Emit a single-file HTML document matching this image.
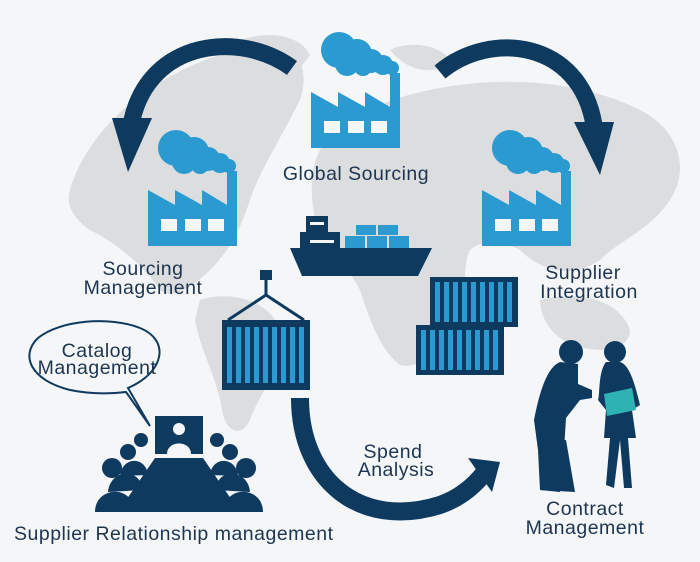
<!DOCTYPE html>
<html><head><meta charset="utf-8"><style>
html,body{margin:0;padding:0;background:#f4f6f8}
svg{display:block}
text{font-family:"Liberation Sans",sans-serif;font-size:19.5px;fill:#1d3550;letter-spacing:0.5px}
</style></head><body>
<svg width="700" height="562" viewBox="0 0 700 562" xmlns="http://www.w3.org/2000/svg">
<rect width="700" height="562" fill="#f4f6f8"/>
<g fill="#dcdddf">
<path d="M70,190 C90,120 170,60 260,45 C300,40 310,70 300,100 C280,140 260,170 250,200 C240,230 230,250 210,270 C190,290 170,300 160,290 C140,260 110,240 90,230 C75,220 65,205 70,190Z"/>
<path d="M240,40 C270,30 300,35 310,55 L295,75 C280,65 255,60 240,40Z"/>
<path d="M200,300 C230,290 270,300 280,330 C290,360 260,390 250,420 C240,440 225,430 222,410 C218,380 200,350 195,320Z"/>
<path d="M320,150 C340,120 380,100 430,90 C500,75 580,80 640,110 C680,130 690,170 670,200 C650,230 620,240 600,260 C570,280 540,270 520,250 C500,240 480,240 470,250 C460,270 470,300 460,320 C445,350 420,370 400,365 C380,350 370,320 360,290 C345,260 320,250 315,220 C310,190 310,170 320,150Z"/>
<path d="M540,300 C580,290 620,300 630,330 C630,350 600,355 575,345 C555,340 540,320 540,300Z"/>
<path d="M390,50 C410,40 440,45 450,60 C440,75 410,75 390,50Z"/>
</g>

<g fill="none" stroke="#0e3a5f" stroke-linecap="butt">
<path d="M292,68 C240,30 150,40 132,120" stroke-width="17"/>
<path d="M440,72 C490,30 580,40 594,125" stroke-width="17"/>
<path d="M300,398 C300,480 360,530 440,505 C460,498 475,485 485,472" stroke-width="18"/>
</g>
<g fill="#0e3a5f">
<polygon points="112,118 152,118 128,172"/>
<polygon points="574,122 614,122 600,175"/>
<polygon points="468,458 500,462 492,492"/>
</g>

<defs>
<g id="fac">
<g fill="#2a9ad0">
<circle cx="28" cy="20" r="18"/><circle cx="46" cy="24" r="15"/><circle cx="60" cy="31" r="12"/><circle cx="72" cy="35" r="10"/><circle cx="81" cy="38" r="7"/><circle cx="36" cy="34" r="12"/><circle cx="52" cy="37" r="9"/>
<path d="M0,62 L27,77 L27,62 L54,77 L54,62 L79,77 L79,43 L89,43 L89,118 L0,118Z"/>
</g>
<g fill="#f4f6f8"><rect x="13" y="91" width="16" height="12"/><rect x="37" y="91" width="16" height="12"/><rect x="60" y="91" width="16" height="12"/></g>
</g>
</defs>
<use href="#fac" x="311" y="30"/>
<use href="#fac" x="148" y="128"/>
<use href="#fac" x="482" y="128"/>

<g fill="#0e3a5f">
<path d="M290,248 L432,248 L418,276 L302,276Z"/>
<rect x="300" y="232" width="40" height="16"/>
<rect x="306" y="216" width="22" height="16"/>
</g>
<g fill="#2a9ad0">
<rect x="345" y="236" width="20" height="12"/><rect x="367" y="236" width="20" height="12"/><rect x="389" y="236" width="20" height="12"/>
<rect x="356" y="225" width="20" height="10"/><rect x="378" y="225" width="20" height="10"/>
</g>
<g fill="#f4f6f8"><rect x="310" y="240" width="24" height="3"/><rect x="310" y="222" width="14" height="3"/></g>

<g stroke="#0e3a5f" stroke-width="3" fill="none">
<line x1="266" y1="272" x2="266" y2="295"/>
<path d="M266,295 L228,320 M266,295 L304,320"/>
</g>
<rect x="260" y="270" width="12" height="10" fill="#0e3a5f"/>
<defs><g id="cont">
<rect width="88" height="50" fill="#0e3a5f"/>
<g fill="#2a9ad0">
<rect x="5" y="5" width="5" height="40"/><rect x="14" y="5" width="5" height="40"/><rect x="23" y="5" width="5" height="40"/><rect x="32" y="5" width="5" height="40"/><rect x="41" y="5" width="5" height="40"/><rect x="50" y="5" width="5" height="40"/><rect x="59" y="5" width="5" height="40"/><rect x="68" y="5" width="5" height="40"/><rect x="77" y="5" width="5" height="40"/>
</g></g></defs>
<use href="#cont" transform="translate(222,320) scale(1,1.4)"/>
<use href="#cont" x="430" y="277"/>
<use href="#cont" x="416" y="325"/>

<g fill="#0e3a5f">
<circle cx="571" cy="352" r="12"/>
<path d="M560,362 C545,368 538,400 534,420 L538,450 L540,490 L560,492 L564,450 L566,418 L580,400 L592,398 L592,390 L578,384 L578,364Z"/>
<path d="M548,440 L540,490 L575,492 L566,440Z"/>
<circle cx="615" cy="352" r="11"/>
<path d="M606,362 C598,372 600,395 598,400 L606,410 L604,438 L636,438 L632,410 L640,405 C635,385 630,365 620,362Z"/>
<path d="M610,438 L606,485 L614,488 L620,440 L624,488 L632,488 L628,438Z"/>
</g>
<path d="M604,394 L632,388 L636,410 L607,416Z" fill="#2fb2b3"/>

<path d="M128,388 C165,372 170,340 140,328 C110,316 60,320 38,338 C20,355 30,380 70,390 C90,394 110,394 126,392 L150,426Z" fill="#f4f6f8" stroke="#0e3a5f" stroke-width="2"/>

<g fill="#0e3a5f">
<rect x="155" y="416" width="48" height="38"/>
<path d="M155,458 L203,458 L240,512 L118,512Z"/>
<circle cx="141" cy="440" r="7"/><circle cx="128" cy="452" r="8"/><circle cx="112" cy="468" r="10"/>
<path d="M95,512 C95,486 134,484 134,512Z"/>
<path d="M108,492 C110,468 142,468 142,490Z"/><path d="M120,476 C122,456 146,456 148,475Z"/>
<circle cx="217" cy="440" r="7"/><circle cx="230" cy="452" r="8"/><circle cx="246" cy="468" r="10"/>
<path d="M224,512 C224,484 263,486 263,512Z"/>
<path d="M216,490 C216,468 248,468 250,492Z"/><path d="M210,475 C212,456 236,456 238,476Z"/>
</g>
<g fill="#f4f6f8"><circle cx="179" cy="429" r="6"/><path d="M167,454 C167,440 191,440 191,454Z"/></g>

<text x="356" y="180" text-anchor="middle">Global Sourcing</text>
<text x="143" y="275" text-anchor="middle">Sourcing</text>
<text x="143" y="294" text-anchor="middle">Management</text>
<text x="583" y="279" text-anchor="middle">Supplier</text>
<text x="589" y="298" text-anchor="middle">Integration</text>
<text x="97" y="357" text-anchor="middle">Catalog</text>
<text x="97" y="374" text-anchor="middle">Management</text>
<text x="393" y="458" text-anchor="middle">Spend</text>
<text x="396" y="476" text-anchor="middle">Analysis</text>
<text x="585" y="515" text-anchor="middle">Contract</text>
<text x="585" y="534" text-anchor="middle">Management</text>
<text x="14" y="540">Supplier Relationship management</text>
</svg>
</body></html>
